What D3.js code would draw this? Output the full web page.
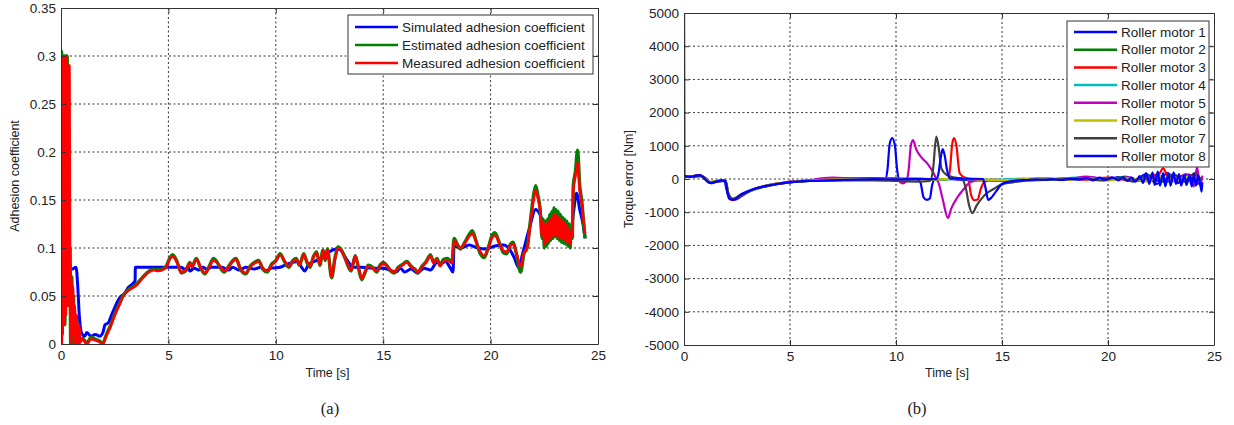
<!DOCTYPE html>
<html>
<head>
<meta charset="utf-8">
<script src="https://cdn.jsdelivr.net/npm/d3@7"></script>
<style>
  body { margin: 0; background: #fff; }
  svg text { font-family: "Liberation Sans", Arial, sans-serif; fill: #222; }
</style>
</head>
<body>
<svg id="chart" width="1234" height="425"></svg>
<script>
// ---- panel (a): adhesion coefficient, [time s, value] ----
const xTicks = [0, 5, 10, 15, 20, 25];
const yTicksA = [0, 0.05, 0.1, 0.15, 0.2, 0.25, 0.3, 0.35];
const yTicksB = [-5000, -4000, -3000, -2000, -1000, 0, 1000, 2000, 3000, 4000, 5000];

const simulated = [[0,0.04],[0.1,0.035],[0.2,0.045],[0.3,0.04],[0.33,0.08],[0.5,0.078],[0.7,0.08],[0.78,0.06],[0.85,0.03],[0.95,0.012],[1.1,0.008],[1.2,0.012],[1.4,0.008],[1.6,0.01],[1.8,0.008],[1.95,0.012],[2.05,0.02],[2.2,0.022],[2.35,0.03],[2.5,0.038],[2.65,0.045],[2.8,0.05],[2.95,0.052],[3.1,0.058],[3.3,0.062],[3.45,0.066],[3.46,0.08],[4.0,0.08],[5.0,0.08],[5.6,0.08],[5.8,0.077],[5.9,0.081],[6.0,0.076],[6.2,0.079],[6.4,0.077],[6.6,0.08],[6.8,0.078],[7.0,0.08],[7.5,0.08],[7.8,0.077],[8.0,0.08],[8.3,0.077],[8.6,0.08],[9.0,0.078],[9.3,0.08],[9.5,0.076],[9.8,0.079],[10.2,0.08],[10.5,0.083],[10.8,0.085],[11.0,0.086],[11.2,0.08],[11.35,0.076],[11.5,0.082],[11.8,0.086],[12.0,0.088],[12.2,0.09],[12.5,0.096],[12.8,0.099],[13.0,0.098],[13.3,0.088],[13.6,0.08],[14.0,0.08],[14.5,0.079],[15.0,0.079],[15.3,0.077],[15.6,0.075],[15.8,0.079],[16.0,0.075],[16.3,0.078],[16.6,0.074],[16.9,0.079],[17.2,0.077],[17.5,0.085],[17.7,0.084],[17.9,0.086],[18.1,0.08],[18.25,0.075],[18.3,0.102],[18.6,0.1],[19.0,0.103],[19.4,0.1],[19.8,0.099],[20.2,0.102],[20.6,0.103],[20.9,0.098],[21.1,0.09],[21.3,0.08],[21.5,0.095],[21.8,0.12],[22.1,0.14],[22.3,0.135],[22.6,0.118],[22.9,0.12],[23.2,0.125],[23.5,0.12],[23.7,0.11],[23.85,0.135],[24.0,0.157],[24.15,0.14],[24.3,0.125],[24.4,0.11]];

const estimated = [[0,0.05],[0.03,0.305],[0.06,0.01],[0.09,0.29],[0.12,0.03],[0.15,0.3],[0.18,0.02],[0.22,0.3],[0.25,0.04],[0.29,0.3],[0.32,0.05],[0.35,0.29],[0.38,0.04],[0.42,0.1],[0.45,0.0],[0.5,0.07],[0.54,0.0],[0.58,0.05],[0.62,0.0],[0.7,0.03],[0.8,0.0],[0.9,0.003],[1.0,0.006],[1.2,0.001],[1.4,0.007],[1.6,0.005],[1.8,0.003],[1.95,0.001],[2.1,0.009],[2.3,0.019],[2.5,0.031],[2.7,0.041],[2.9,0.051],[3.1,0.056],[3.3,0.059],[3.5,0.062],[3.7,0.067],[3.9,0.072],[4.1,0.076],[4.3,0.078],[4.5,0.077],[4.7,0.078],[4.9,0.081],[5.05,0.089],[5.2,0.093],[5.4,0.086],[5.6,0.074],[5.8,0.076],[6.0,0.085],[6.1,0.081],[6.3,0.089],[6.5,0.079],[6.7,0.073],[6.9,0.081],[7.1,0.089],[7.25,0.086],[7.4,0.08],[7.6,0.075],[7.8,0.081],[8.0,0.087],[8.15,0.089],[8.35,0.078],[8.6,0.073],[8.8,0.081],[9.0,0.085],[9.2,0.087],[9.4,0.078],[9.6,0.075],[9.8,0.083],[10.0,0.087],[10.2,0.094],[10.4,0.086],[10.6,0.08],[10.8,0.087],[10.95,0.089],[11.1,0.082],[11.3,0.094],[11.45,0.085],[11.6,0.08],[11.75,0.091],[11.9,0.096],[12.05,0.082],[12.2,0.098],[12.3,0.087],[12.4,0.099],[12.6,0.069],[12.75,0.089],[12.9,0.101],[13.05,0.098],[13.2,0.091],[13.35,0.082],[13.5,0.076],[13.7,0.092],[13.85,0.079],[14.0,0.067],[14.15,0.074],[14.3,0.082],[14.5,0.08],[14.7,0.075],[14.85,0.082],[15.0,0.085],[15.2,0.081],[15.35,0.076],[15.5,0.074],[15.7,0.08],[15.9,0.083],[16.1,0.086],[16.3,0.081],[16.5,0.077],[16.6,0.074],[16.8,0.081],[17.0,0.086],[17.2,0.093],[17.35,0.085],[17.5,0.089],[17.65,0.082],[17.8,0.088],[18.0,0.089],[18.2,0.085],[18.3,0.11],[18.45,0.104],[18.6,0.099],[18.8,0.106],[19.0,0.114],[19.15,0.118],[19.3,0.109],[19.5,0.095],[19.7,0.09],[19.9,0.101],[20.05,0.112],[20.2,0.116],[20.4,0.106],[20.6,0.095],[20.75,0.094],[20.9,0.103],[21.05,0.106],[21.2,0.094],[21.4,0.075],[21.55,0.094],[21.7,0.1],[21.85,0.128],[22.0,0.155],[22.1,0.165],[22.2,0.155],[22.3,0.142],[22.4,0.11],[22.45,0.13],[22.5,0.1],[22.55,0.128],[22.6,0.102],[22.65,0.13],[22.7,0.105],[22.75,0.135],[22.8,0.108],[22.85,0.138],[22.9,0.11],[22.95,0.142],[23.0,0.112],[23.05,0.14],[23.1,0.11],[23.15,0.138],[23.2,0.108],[23.25,0.135],[23.3,0.106],[23.35,0.132],[23.4,0.105],[23.45,0.13],[23.5,0.104],[23.55,0.128],[23.6,0.102],[23.65,0.125],[23.7,0.1],[23.75,0.12],[23.8,0.11],[23.85,0.165],[23.95,0.18],[24.05,0.202],[24.15,0.165],[24.25,0.148],[24.35,0.12],[24.4,0.11]];

const measured = [[0,0.02],[0.02,0.3],[0.04,0.0],[0.07,0.29],[0.1,0.04],[0.13,0.3],[0.16,0.02],[0.2,0.3],[0.23,0.03],[0.27,0.3],[0.3,0.05],[0.33,0.29],[0.36,0.04],[0.39,0.29],[0.42,0.08],[0.45,0.0],[0.48,0.07],[0.52,0.01],[0.56,0.06],[0.6,0.0],[0.64,0.04],[0.68,0.0],[0.72,0.03],[0.78,0.0],[0.85,0.02],[0.9,0.002],[1.0,0.005],[1.2,0.0],[1.4,0.005],[1.6,0.004],[1.8,0.002],[1.95,0.0],[2.1,0.008],[2.3,0.018],[2.5,0.03],[2.7,0.04],[2.9,0.05],[3.1,0.055],[3.3,0.058],[3.5,0.061],[3.7,0.066],[3.9,0.071],[4.1,0.075],[4.3,0.077],[4.5,0.076],[4.7,0.077],[4.9,0.08],[5.05,0.088],[5.2,0.091],[5.4,0.085],[5.6,0.075],[5.8,0.077],[6.0,0.084],[6.1,0.08],[6.3,0.088],[6.5,0.08],[6.7,0.074],[6.9,0.08],[7.1,0.087],[7.25,0.085],[7.4,0.081],[7.6,0.076],[7.8,0.08],[8.0,0.086],[8.15,0.088],[8.35,0.079],[8.6,0.074],[8.8,0.08],[9.0,0.084],[9.2,0.086],[9.4,0.079],[9.6,0.076],[9.8,0.082],[10.0,0.086],[10.2,0.093],[10.4,0.087],[10.6,0.081],[10.8,0.086],[10.95,0.088],[11.1,0.083],[11.3,0.093],[11.45,0.086],[11.6,0.081],[11.75,0.09],[11.9,0.095],[12.05,0.083],[12.2,0.097],[12.3,0.088],[12.4,0.098],[12.6,0.07],[12.75,0.088],[12.9,0.1],[13.05,0.097],[13.2,0.09],[13.35,0.083],[13.5,0.077],[13.7,0.091],[13.85,0.08],[14.0,0.068],[14.15,0.075],[14.3,0.081],[14.5,0.079],[14.7,0.076],[14.85,0.081],[15.0,0.084],[15.2,0.08],[15.35,0.077],[15.5,0.075],[15.7,0.079],[15.9,0.082],[16.1,0.085],[16.3,0.08],[16.5,0.078],[16.6,0.075],[16.8,0.08],[17.0,0.085],[17.2,0.092],[17.35,0.084],[17.5,0.088],[17.65,0.081],[17.8,0.086],[18.0,0.087],[18.2,0.084],[18.3,0.108],[18.45,0.103],[18.6,0.1],[18.8,0.105],[19.0,0.112],[19.15,0.115],[19.3,0.108],[19.5,0.097],[19.7,0.092],[19.9,0.1],[20.05,0.11],[20.2,0.113],[20.4,0.105],[20.6,0.097],[20.75,0.096],[20.9,0.102],[21.05,0.104],[21.2,0.095],[21.4,0.08],[21.55,0.095],[21.7,0.1],[21.85,0.125],[22.0,0.15],[22.1,0.16],[22.2,0.152],[22.3,0.14],[22.4,0.112],[22.45,0.128],[22.5,0.104],[22.55,0.125],[22.6,0.106],[22.65,0.127],[22.7,0.108],[22.75,0.13],[22.8,0.11],[22.85,0.133],[22.9,0.112],[22.95,0.136],[23.0,0.113],[23.05,0.134],[23.1,0.112],[23.15,0.132],[23.2,0.11],[23.25,0.13],[23.3,0.109],[23.35,0.128],[23.4,0.108],[23.45,0.126],[23.5,0.106],[23.55,0.124],[23.6,0.105],[23.65,0.121],[23.7,0.103],[23.75,0.116],[23.8,0.112],[23.85,0.16],[23.95,0.175],[24.05,0.189],[24.15,0.16],[24.25,0.145],[24.35,0.125],[24.4,0.115]];

// ---- panel (b): torque error [Nm] per roller motor ----
const motor1 = [[0,80],[0.3,60],[0.5,95],[0.75,110],[0.9,60],[1.1,-60],[1.25,-110],[1.5,-70],[1.9,-40],[2.0,-300],[2.15,-600],[2.4,-620],[2.7,-520],[3.1,-360],[3.7,-230],[4.4,-140],[5.0,-90],[5.9,-60],[7.5,-30],[9.0,-10],[9.5,0],[9.6,300],[9.7,1050],[9.82,1230],[9.95,1000],[10.05,300],[10.15,0],[10.5,-20],[11.0,-10],[11.15,-100],[11.3,-550],[11.45,-630],[11.6,-580],[11.7,-200],[11.8,-20],[12.5,0],[13,-20],[14,-40],[15,-30],[16,-20],[17,10],[18,-30],[19,40],[19.8,-40],[20.5,60],[21.2,-80],[21.8,150],[22.3,-150],[22.8,180],[23.3,-120],[23.8,130],[24.2,-150],[24.4,-60]];
const motor2 = [[0,70],[0.4,90],[0.8,100],[1.2,-100],[1.6,-60],[1.95,-50],[2.1,-500],[2.3,-620],[2.7,-500],[3.2,-340],[4.0,-200],[5.0,-100],[6.0,-50],[7.5,-20],[9.0,0],[10,-20],[11,10],[12,-30],[13,20],[14,-20],[15,-40],[16,-10],[17,20],[18,-20],[19,50],[20,-30],[20.8,70],[21.5,-60],[22.2,90],[22.9,-80],[23.5,80],[24.1,-90],[24.4,40]];
const motor3 = [[0,90],[0.35,70],[0.7,120],[1.0,40],[1.3,-130],[1.7,-50],[1.97,-60],[2.1,-480],[2.3,-640],[2.6,-520],[3.0,-390],[3.6,-260],[4.3,-160],[5.0,-100],[6.0,-40],[7.0,10],[8.0,20],[9.0,10],[10,20],[11,0],[12,-10],[12.45,0],[12.55,300],[12.65,1050],[12.74,1230],[12.85,1000],[13.0,180],[13.25,40],[13.4,0],[13.55,-500],[13.7,-640],[13.85,-620],[14.0,-300],[14.15,-100],[14.5,-20],[15,-30],[16,0],[17,-20],[18,30],[19,-20],[20,40],[21,-40],[21.8,80],[22.4,150],[22.6,320],[22.8,100],[23.3,-60],[24,120],[24.4,-40]];
const motor4 = [[0,60],[0.5,80],[0.8,90],[1.2,-90],[1.6,-70],[1.95,-40],[2.1,-450],[2.3,-600],[2.7,-480],[3.3,-320],[4.0,-190],[5.0,-90],[6.0,-45],[7.5,-15],[9.0,5],[10,-10],[11,20],[12,-20],[13,10],[14,-30],[15,-20],[16,10],[17,-30],[18,20],[19,60],[20,-20],[20.7,40],[21.4,-50],[22,120],[22.7,-90],[23.4,60],[24,-100],[24.4,30]];
const motor5 = [[0,75],[0.4,60],[0.8,100],[1.2,-100],[1.6,-70],[1.95,-50],[2.1,-470],[2.3,-610],[2.7,-500],[3.2,-330],[4.0,-180],[4.6,-120],[5.0,-80],[6.0,-30],[6.5,20],[7.0,40],[8.0,20],[9.0,30],[10.0,10],[10.3,-130],[10.5,-60],[10.6,300],[10.7,1000],[10.8,1175],[10.95,900],[11.2,650],[11.5,450],[11.77,180],[11.9,0],[12.0,-100],[12.2,-600],[12.45,-1175],[12.6,-900],[12.9,-550],[13.2,-300],[13.5,-100],[14.0,-30],[14.9,-50],[16,-20],[17,10],[18,-10],[19,70],[20,-20],[21,50],[21.6,-60],[22.3,100],[23,-60],[23.7,150],[24.05,-220],[24.2,350],[24.35,-200],[24.45,100]];
const motor6 = [[0,65],[0.5,90],[0.85,80],[1.2,-80],[1.6,-60],[1.95,-40],[2.1,-430],[2.3,-590],[2.7,-470],[3.3,-310],[4.0,-180],[5.0,-90],[6.0,-40],[7.5,-10],[9.0,0],[10,-20],[11,10],[12,-10],[13,20],[14,-20],[15,-30],[16,-10],[17,20],[18,-30],[19,30],[20,-40],[21,20],[21.8,-70],[22.5,60],[23.2,-40],[23.9,90],[24.4,-60]];
const motor7 = [[0,55],[0.4,70],[0.8,85],[1.2,-110],[1.6,-80],[1.95,-60],[2.1,-460],[2.3,-600],[2.7,-490],[3.2,-330],[4.0,-190],[5.0,-100],[6.0,-60],[7.5,-40],[9.0,-40],[10.0,-60],[11.0,-80],[11.6,-60],[11.75,300],[11.9,1280],[12.0,1000],[12.15,300],[12.4,120],[12.8,40],[13.1,20],[13.3,-300],[13.45,-800],[13.6,-1030],[13.8,-800],[14.0,-620],[14.3,-420],[14.6,-300],[15.0,-160],[15.5,-100],[16,-60],[17,-30],[18,-10],[19,20],[19.6,-40],[20.4,30],[21.2,-50],[21.9,110],[22.5,-90],[23.1,140],[23.6,-80],[24.1,180],[24.4,-50]];
const motor8 = [[0,6000],[0.02,100],[0.3,70],[0.5,95],[0.75,115],[0.9,60],[1.1,-60],[1.25,-120],[1.5,-80],[1.75,-40],[1.95,-50],[2.05,-400],[2.15,-600],[2.35,-630],[2.6,-500],[3.0,-370],[3.4,-280],[3.8,-220],[4.4,-150],[5.0,-95],[5.5,-70],[6.0,-55],[7.0,-35],[8.0,-20],[9.0,-5],[10,-10],[11,0],[11.9,0],[12.0,150],[12.1,600],[12.2,900],[12.3,700],[12.4,300],[12.55,10],[13.2,10],[14.1,0],[14.2,-200],[14.35,-630],[14.5,-560],[14.6,-480],[14.8,-300],[15.0,-150],[15.4,-70],[15.8,-40],[16.2,-30],[16.6,-10],[17.0,-20],[17.4,0],[17.8,-30],[18.2,10],[18.6,-20],[19.0,30],[19.3,-40],[19.6,40],[19.9,-30],[20.2,50],[20.5,-40],[20.7,60],[20.9,-60],[21.1,40],[21.3,-80],[21.5,90],[21.65,-120],[21.8,180],[21.95,-150],[22.1,200],[22.2,-180],[22.35,220],[22.45,-200],[22.6,180],[22.7,-220],[22.85,160],[22.95,-200],[23.1,200],[23.2,-150],[23.35,150],[23.45,-200],[23.6,120],[23.7,-180],[23.85,100],[23.95,-220],[24.05,150],[24.15,-200],[24.25,100],[24.35,-150],[24.42,-380],[24.45,-100]];

const seriesA = [
  { name: "Simulated adhesion coefficient", color: "#0000ff", width: 3, data: simulated },
  { name: "Estimated adhesion coefficient", color: "#008000", width: 3.4, data: estimated },
  { name: "Measured adhesion coefficient", color: "#ff0000", width: 2.6, data: measured }
];
const seriesB = [
  { name: "Roller motor 1", color: "#0000ff", data: motor1 },
  { name: "Roller motor 2", color: "#008000", data: motor2 },
  { name: "Roller motor 3", color: "#ff0000", data: motor3 },
  { name: "Roller motor 4", color: "#00bfbf", data: motor4 },
  { name: "Roller motor 5", color: "#bf00bf", data: motor5 },
  { name: "Roller motor 6", color: "#bfbf00", data: motor6 },
  { name: "Roller motor 7", color: "#404040", data: motor7 },
  { name: "Roller motor 8", color: "#0000ff", data: motor8 }
];

const svg = d3.select("#chart");

function panel(opt) {
  const x = d3.scaleLinear().domain([0, 25]).range([opt.left, opt.right]);
  const y = d3.scaleLinear().domain(opt.yDomain).range([opt.bottom, opt.top]);
  const g = svg.append("g");

  g.append("clipPath").attr("id", opt.id + "-clip")
    .append("rect")
    .attr("x", opt.left).attr("y", opt.top)
    .attr("width", opt.right - opt.left).attr("height", opt.bottom - opt.top);

  // dotted grid
  const grid = g.append("g")
    .attr("stroke", "#333").attr("stroke-width", 1).attr("stroke-dasharray", "2,2.5");
  grid.selectAll(".gx").data(xTicks.slice(1, -1)).enter().append("line")
    .attr("x1", d => x(d)).attr("x2", d => x(d))
    .attr("y1", opt.top).attr("y2", opt.bottom);
  grid.selectAll(".gy").data(opt.yTicks.slice(1, -1)).enter().append("line")
    .attr("y1", d => y(d)).attr("y2", d => y(d))
    .attr("x1", opt.left).attr("x2", opt.right);

  // data
  const line = d3.line().x(d => x(d[0])).y(d => y(d[1])).curve(d3.curveMonotoneX);
  g.append("g").attr("clip-path", "url(#" + opt.id + "-clip)")
    .selectAll("path").data(opt.series).enter().append("path")
    .attr("d", d => line(d.data))
    .attr("fill", "none")
    .attr("stroke", d => d.color)
    .attr("stroke-width", d => d.width || opt.lineWidth)
    .attr("stroke-linejoin", "round");

  // axes, ticks inside like Matlab
  const fmt = d => String(d);
  const styleAxis = sel => {
    sel.attr("font-size", 13.5).attr("font-family", "'Liberation Sans', Arial, sans-serif");
    sel.selectAll("path, line").attr("stroke", "#333");
    sel.selectAll("text").attr("fill", "#222");
  };
  g.append("g").attr("transform", "translate(0," + opt.bottom + ")")
    .call(d3.axisBottom(x).tickValues(xTicks).tickFormat(fmt).tickSize(-5).tickSizeOuter(0).tickPadding(6))
    .call(styleAxis);
  g.append("g").attr("transform", "translate(" + opt.left + ",0)")
    .call(d3.axisLeft(y).tickValues(opt.yTicks).tickFormat(fmt).tickSize(-5).tickSizeOuter(0).tickPadding(5))
    .call(styleAxis);
  g.append("g").attr("transform", "translate(0," + opt.top + ")")
    .call(d3.axisTop(x).tickValues(xTicks).tickFormat("").tickSize(-5).tickSizeOuter(0))
    .call(styleAxis);
  g.append("g").attr("transform", "translate(" + opt.right + ",0)")
    .call(d3.axisRight(y).tickValues(opt.yTicks).tickFormat("").tickSize(-5).tickSizeOuter(0))
    .call(styleAxis);

  // titles
  g.append("text")
    .attr("x", (opt.left + opt.right) / 2 - 2).attr("y", 377)
    .attr("text-anchor", "middle").attr("font-size", 12.5)
    .text("Time [s]");
  g.append("text")
    .attr("transform", "translate(" + opt.yTitleX + "," + (opt.top + opt.bottom) / 2 + ") rotate(-90)")
    .attr("text-anchor", "middle").attr("font-size", 12.5)
    .text(opt.yTitle);
  g.append("text")
    .attr("x", opt.captionX).attr("y", 414)
    .attr("text-anchor", "middle").attr("font-size", 16.5)
    .style("font-family", "'Liberation Serif', 'Times New Roman', serif")
    .text(opt.caption);

  // legend
  const lg = opt.legend;
  const leg = g.append("g");
  leg.append("rect")
    .attr("x", lg.x).attr("y", lg.y).attr("width", lg.w).attr("height", lg.h)
    .attr("fill", "#fff").attr("stroke", "#333").attr("stroke-width", 1);
  const rows = leg.selectAll(".row").data(opt.series).enter().append("g")
    .attr("transform", (d, i) => "translate(0," + (lg.y + lg.first + i * lg.step) + ")");
  rows.append("line")
    .attr("x1", lg.x + 7).attr("x2", lg.x + 50)
    .attr("stroke", d => d.color).attr("stroke-width", 2.5);
  rows.append("text")
    .attr("x", lg.x + 54).attr("dy", "0.35em")
    .attr("font-size", 13.5)
    .text(d => d.name);
}

panel({
  id: "pa", left: 61, right: 598, top: 8, bottom: 344,
  yDomain: [0, 0.35], yTicks: yTicksA, series: seriesA, lineWidth: 3,
  yTitle: "Adhesion coefficient", yTitleX: 19, caption: "(a)", captionX: 330,
  legend: { x: 348, y: 15, w: 245, h: 59, first: 12, step: 18 }
});

panel({
  id: "pb", left: 684, right: 1214, top: 13, bottom: 345,
  yDomain: [-5000, 5000], yTicks: yTicksB, series: seriesB, lineWidth: 2.2,
  yTitle: "Torque error [Nm]", yTitleX: 633, caption: "(b)", captionX: 917,
  legend: { x: 1067, y: 21, w: 142, h: 146, first: 11, step: 17.7 }
});
</script>
</body>
</html>
